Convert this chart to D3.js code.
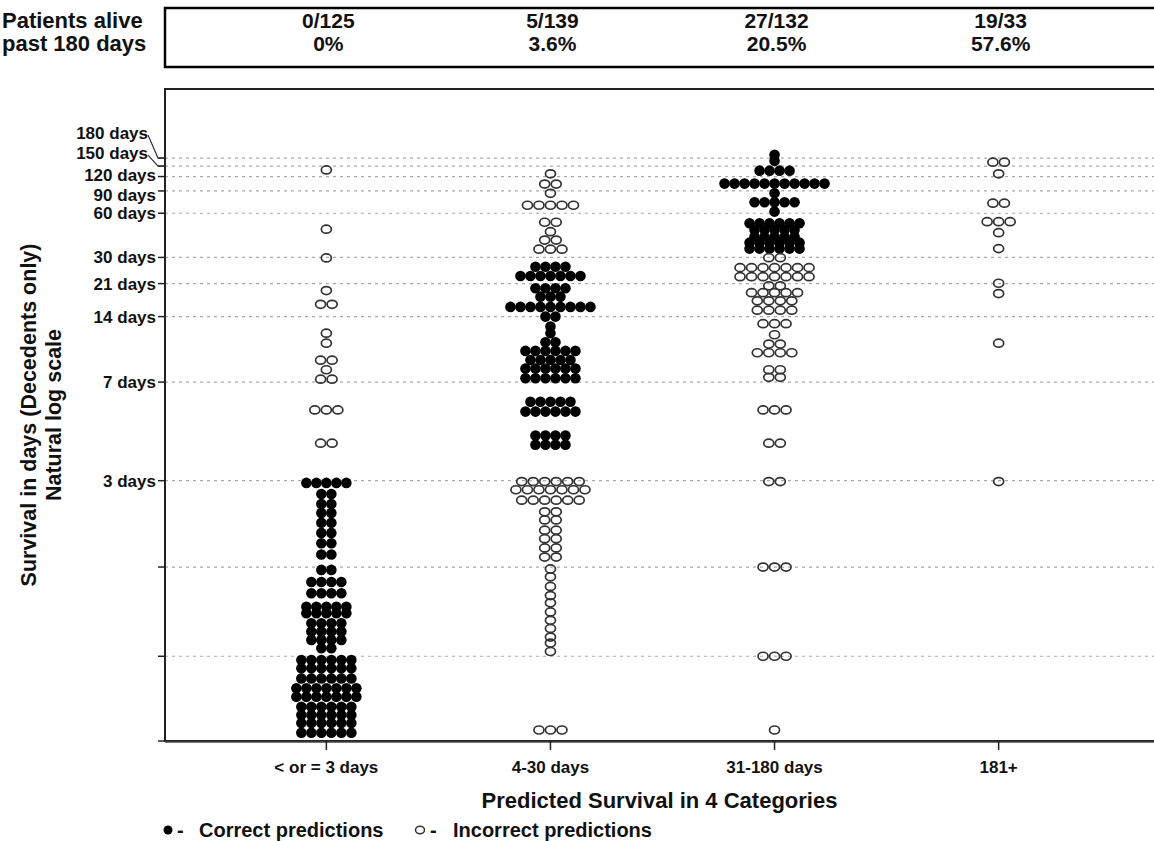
<!DOCTYPE html>
<html>
<head>
<meta charset="utf-8">
<script src="https://cdn.jsdelivr.net/npm/d3@7"></script>
<style>
    body { margin: 0; background: #fff; }
    svg text { font-family: "Liberation Sans", Arial, sans-serif; font-weight: bold; fill: #111; }
</style>
</head>
<body>
<div id="chart"></div>
<script>
// 生存期预测点图

const categories = ['< or = 3 days', '4-30 days', '31-180 days', '181+'];
const aliveFraction = ['0/125', '5/139', '27/132', '19/33'];
const alivePercent = ['0%', '3.6%', '20.5%', '57.6%'];

const tickDays = [3, 7, 14, 21, 30, 60, 90, 120, 150, 180];
const minorTickDays = [1.63, 0.95];

// 每一行: [生存天数, 该行人数]
const correct3 = [[2.95, 5], [2.71, 2], [2.52, 2], [2.36, 2], [2.2, 2], [2.05, 2], [1.91, 2], [1.77, 2],
    [1.6, 2], [1.48, 4], [1.38, 4], [1.27, 5], [1.22, 5], [1.15, 4], [1.095, 4], [1.043, 4], [0.994, 2],
    [0.93, 6], [0.888, 6], [0.84, 6], [0.797, 7], [0.762, 7], [0.722, 6], [0.692, 6], [0.664, 6], [0.632, 6]];
const incorrect3 = [[138, 1], [46, 1], [29.8, 1], [19.2, 1], [16.2, 2], [11.6, 1], [10.4, 1], [8.7, 2],
    [7.9, 1], [7.2, 2], [5.4, 3], [4.05, 2]];

const correct4to30 = [[26.3, 4], [23.2, 7], [19.8, 4], [17.8, 3], [15.7, 9], [14.0, 2], [12.5, 1], [11.6, 1],
    [10.5, 2], [9.58, 6], [8.72, 5], [8.0, 6], [7.26, 6], [5.82, 5], [5.32, 6], [4.32, 4], [4.0, 4]];
const incorrect4to30 = [[127, 1], [103, 2], [86, 1], [69, 5], [51.5, 2], [44.2, 1], [38.8, 2], [33.8, 3],
    [2.98, 6], [2.8, 7], [2.59, 6], [2.38, 2], [2.245, 2], [2.09, 2], [1.97, 2], [1.85, 2], [1.74, 2],
    [1.61, 1], [1.53, 1], [1.44, 1], [1.36, 1], [1.3, 1], [1.23, 1], [1.17, 1], [1.115, 1], [1.06, 1],
    [1.024, 1], [0.976, 1], [0.641, 3]];

const correct31to180 = [[195, 1], [169, 1], [136, 4], [104, 11], [86, 1], [72.8, 5], [61.7, 1],
    [50.7, 6], [45.4, 5], [40.8, 5], [37.3, 6], [34.1, 6]];
const incorrect31to180 = [[29.9, 2], [26.0, 7], [23.0, 7], [20.4, 2], [18.7, 5], [16.9, 4], [15.1, 4],
    [12.9, 3], [11.4, 1], [10.3, 2], [9.4, 4], [7.9, 2], [7.33, 2], [5.4, 3], [4.05, 2], [2.98, 2],
    [1.63, 3], [0.95, 3], [0.641, 1]];

const correct181 = [];
const incorrect181 = [[164, 2], [127, 1], [71.6, 2], [52, 3], [43.5, 1], [34.1, 1], [21.1, 1], [18.5, 1],
    [10.4, 1], [2.98, 1]];

const correctRows = [correct3, correct4to30, correct31to180, correct181];
const incorrectRows = [incorrect3, incorrect4to30, incorrect31to180, incorrect181];

const width = 1154, height = 841;
const plot = { left: 165, top: 89, right: 1154, bottom: 741 };

const svg = d3.select('#chart').append('svg')
    .attr('width', width)
    .attr('height', height);

const x = d3.scalePoint()
    .domain(categories)
    .range([plot.left, plot.left + 995])
    .padding(0.72);

const y = d3.scalePow()
    .exponent(-0.27)
    .domain([Math.exp(-0.5), 1470])
    .range([plot.bottom, plot.top]);

// 表头
svg.append('rect')
    .attr('x', plot.left).attr('y', 8)
    .attr('width', 1010).attr('height', 59)
    .attr('fill', 'none').attr('stroke', '#000').attr('stroke-width', 2.5);

const header = svg.append('g').style('font-size', '22px');
header.append('text').attr('x', 2).attr('y', 28).text('Patients alive');
header.append('text').attr('x', 2).attr('y', 51).text('past 180 days');
header.selectAll('.frac').data(categories).enter().append('text')
    .attr('x', d => x(d) + 2).attr('y', 28).attr('text-anchor', 'middle')
    .style('font-size', '21px')
    .text((d, i) => aliveFraction[i]);
header.selectAll('.pct').data(categories).enter().append('text')
    .attr('x', d => x(d) + 2).attr('y', 51).attr('text-anchor', 'middle')
    .style('font-size', '21px')
    .text((d, i) => alivePercent[i]);

// 网格线
const allTicks = tickDays.concat(minorTickDays);
svg.append('g').selectAll('line').data(allTicks).enter().append('line')
    .attr('x1', plot.left).attr('x2', plot.right)
    .attr('y1', d => y(d)).attr('y2', d => y(d))
    .attr('stroke', '#aaa').attr('stroke-width', 1.2).attr('stroke-dasharray', '3,4');

// 坐标轴
svg.append('g').selectAll('line').data(allTicks.concat([Math.exp(-0.5)])).enter().append('line')
    .attr('x1', plot.left - 7).attr('x2', plot.left)
    .attr('y1', d => y(d)).attr('y2', d => y(d))
    .attr('stroke', '#222').attr('stroke-width', 1.5);

svg.append('path')
    .attr('d', `M${plot.right},${plot.top}H${plot.left}V${plot.bottom}H${plot.right}`)
    .attr('fill', 'none').attr('stroke', '#222').attr('stroke-width', 2);
svg.append('line')
    .attr('x1', plot.left).attr('x2', plot.right)
    .attr('y1', plot.bottom + 1).attr('y2', plot.bottom + 1)
    .attr('stroke', '#444').attr('stroke-width', 1.5);

svg.append('g').selectAll('line').data(categories).enter().append('line')
    .attr('x1', d => x(d)).attr('x2', d => x(d))
    .attr('y1', plot.bottom).attr('y2', plot.bottom + 9)
    .attr('stroke', '#222').attr('stroke-width', 1.5);

// y轴标签 (180 / 150 用引线)
const labelShift = { 180: -25, 150: -13, 120: -1.5, 90: 4 };
const leaderTicks = [180, 150];
const yLabels = svg.append('g').style('font-size', '17px');
yLabels.selectAll('text').data(tickDays).enter().append('text')
    .attr('x', d => leaderTicks.includes(d) ? 148 : 156)
    .attr('y', d => y(d) + (labelShift[d] || 0))
    .attr('dy', '0.35em')
    .attr('text-anchor', 'end')
    .text(d => d + ' days');
svg.append('g').selectAll('path').data(leaderTicks).enter().append('path')
    .attr('d', d => `M148,${y(d) + labelShift[d] + 2}L158,${y(d)}H${plot.left}`)
    .attr('fill', 'none').attr('stroke', '#333').attr('stroke-width', 1.2);

// 点
const filledGap = 10, openGap = 11.5;
categories.forEach((cat, ci) => {
    const cx = x(cat);
    const g = svg.append('g');
    correctRows[ci].forEach(([days, n]) => {
        g.selectAll(null).data(d3.range(n)).enter().append('circle')
            .attr('cx', i => cx + (i - (n - 1) / 2) * filledGap)
            .attr('cy', y(days))
            .attr('r', 5.3)
            .attr('fill', '#000');
    });
    incorrectRows[ci].forEach(([days, n]) => {
        g.selectAll(null).data(d3.range(n)).enter().append('ellipse')
            .attr('cx', i => cx + (i - (n - 1) / 2) * openGap)
            .attr('cy', y(days))
            .attr('rx', 5).attr('ry', 4)
            .attr('fill', 'none')
            .attr('stroke', '#333').attr('stroke-width', 1.7);
    });
});

// x轴标签
svg.append('g').style('font-size', '17px').selectAll('text').data(categories).enter().append('text')
    .attr('x', d => x(d)).attr('y', 773).attr('text-anchor', 'middle')
    .text(d => d);

svg.append('text')
    .attr('x', (plot.left + plot.right) / 2).attr('y', 808)
    .attr('text-anchor', 'middle').style('font-size', '22px')
    .text('Predicted Survival in 4 Categories');

// y轴标题
svg.append('text')
    .attr('transform', `translate(36,${(plot.top + plot.bottom) / 2}) rotate(-90)`)
    .attr('text-anchor', 'middle').style('font-size', '21.5px')
    .text('Survival in days (Decedents only)');
svg.append('text')
    .attr('transform', `translate(61,${(plot.top + plot.bottom) / 2}) rotate(-90)`)
    .attr('text-anchor', 'middle').style('font-size', '21.5px')
    .text('Natural log scale');

// 图例
const legend = svg.append('g').style('font-size', '20px');
legend.append('circle').attr('cx', 168).attr('cy', 830).attr('r', 4.5).attr('fill', '#000');
legend.append('text').attr('x', 177).attr('y', 837).text('-');
legend.append('text').attr('x', 199).attr('y', 837).text('Correct predictions');
legend.append('ellipse').attr('cx', 420).attr('cy', 830).attr('rx', 4.5).attr('ry', 3.8)
    .attr('fill', 'none').attr('stroke', '#333').attr('stroke-width', 1.5);
legend.append('text').attr('x', 430).attr('y', 837).text('-');
legend.append('text').attr('x', 453).attr('y', 837).text('Incorrect predictions');
</script>
</body>
</html>
